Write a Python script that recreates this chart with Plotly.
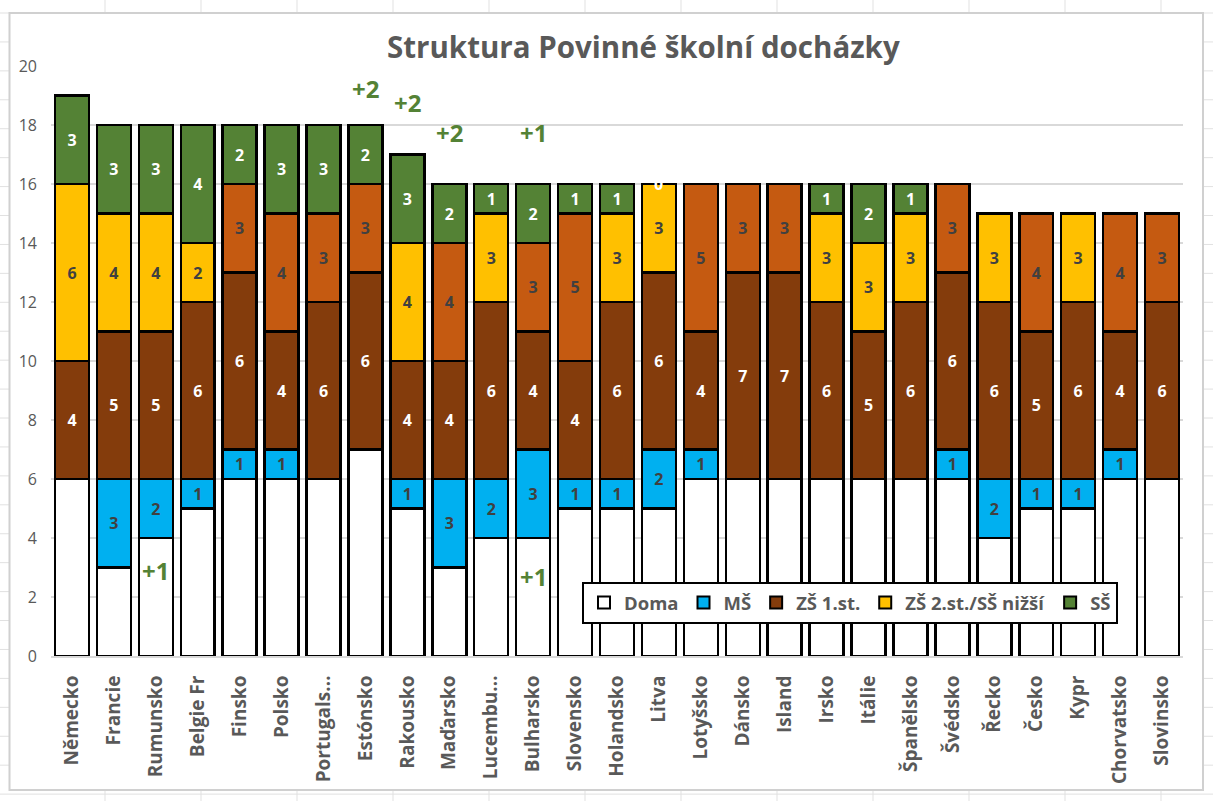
import plotly.graph_objects as go

# ---------------- data ----------------
countries = ["Německo", "Francie", "Rumunsko", "Belgie Fr", "Finsko", "Polsko", "Portugals…",
             "Estónsko", "Rakousko", "Maďarsko", "Lucembu…", "Bulharsko", "Slovensko",
             "Holandsko", "Litva", "Lotyšsko", "Dánsko", "Island", "Irsko", "Itálie",
             "Španělsko", "Švédsko", "Řecko", "Česko", "Kypr", "Chorvatsko", "Slovinsko"]

doma = [6, 3, 4, 5, 6, 6, 6, 7, 5, 3, 4, 4, 5, 5, 5, 6, 6, 6, 6, 6, 6, 6, 4, 5, 5, 6, 6]
ms = [0, 3, 2, 1, 1, 1, 0, 0, 1, 3, 2, 3, 1, 1, 2, 1, 0, 0, 0, 0, 0, 1, 2, 1, 1, 1, 0]
zs1 = [4, 5, 5, 6, 6, 4, 6, 6, 4, 4, 6, 4, 4, 6, 6, 4, 7, 7, 6, 5, 6, 6, 6, 5, 6, 4, 6]
zs2_ss_nizsi = [6, 4, 4, 2, 0, 0, 0, 0, 4, 0, 3, 0, 0, 3, 3, 0, 0, 0, 3, 3, 3, 0, 3, 0, 3, 0, 0]
zs2 = [0, 0, 0, 0, 3, 4, 3, 3, 0, 4, 0, 3, 5, 0, 0, 5, 3, 3, 0, 0, 0, 3, 0, 4, 0, 4, 3]
ss = [3, 3, 3, 4, 2, 3, 3, 2, 3, 2, 1, 2, 1, 1, 0, 0, 0, 0, 1, 2, 1, 0, 0, 0, 0, 0, 0]

# extra notes (country, y-position, text)
notes = [("Estónsko", 19.25, "+2"), ("Rakousko", 18.75, "+2"), ("Maďarsko", 17.75, "+2"),
         ("Bulharsko", 17.75, "+1"), ("Rumunsko", 2.9, "+1"), ("Bulharsko", 2.7, "+1")]

title = "Struktura Povinné školní docházky"
y_ticks = list(range(0, 21, 2))

# ---------------- styling ----------------
FONT = "Open Sans"
GRAY = "#595959"
DARK = "#404040"

fig = go.Figure()


def add(name, vals, color, tcolor, showlegend=True, show_labels=True):
    fig.add_trace(go.Bar(
        name=name, x=countries,
        y=[v if v else None for v in vals],
        marker=dict(color=color, line=dict(color="black", width=2.5)),
        text=[str(v) if (v and show_labels) else "" for v in vals],
        textposition="inside", insidetextanchor="middle", textangle=0,
        insidetextfont=dict(family=FONT, size=16, color=tcolor, weight="bold"),
        showlegend=showlegend, hoverinfo="x+y+name",
    ))


add("Doma", doma, "#FFFFFF", DARK, show_labels=False)
add("MŠ", ms, "#00B0F0", DARK)
add("ZŠ 1.st.", zs1, "#843C0C", "#FFFFFF")
add("ZŠ 2.st./SŠ nižší", zs2_ss_nizsi, "#FFC000", DARK)
add("ZŠ 2.st.", zs2, "#C55A11", DARK, showlegend=False)
add("SŠ", ss, "#548235", "#FFFFFF")

W, H = 1213, 801
L, R, T, B = 51, 30, 66, 145
pw, ph = W - L - R, H - T - B


def px(x):
    return (x - L) / pw


def py(y):
    return (H - B - y) / ph


shapes = []
# spreadsheet grid behind the chart
xv = 105
while xv < W:
    shapes.append(dict(type="line", xref="paper", yref="paper", x0=px(xv), x1=px(xv),
                       y0=py(0), y1=py(H), line=dict(color="#E1E1E1", width=1), layer="below"))
    xv += 96
yv = 13.0
while yv < H:
    shapes.append(dict(type="line", xref="paper", yref="paper", x0=px(0), x1=px(W),
                       y0=py(yv), y1=py(yv), line=dict(color="#E1E1E1", width=1), layer="below"))
    yv += 28.93
# chart area
shapes.append(dict(type="rect", xref="paper", yref="paper", x0=px(9.5), x1=px(1203),
                   y0=py(790), y1=py(13), fillcolor="white",
                   line=dict(color="#D0D0D0", width=2), layer="below"))

annotations = []
for c, yy, t in notes:
    annotations.append(dict(x=c, y=yy, xref="x", yref="y", text=t, showarrow=False,
                            font=dict(family=FONT, size=24, color="#548235", weight="bold")))
# zero-height SŠ label of Litva (white, mostly hidden)
annotations.append(dict(x="Litva", y=16, xref="x", yref="y", text="0", showarrow=False,
                        font=dict(family=FONT, size=16, color="#FFFFFF", weight="bold")))
annotations.append(dict(x=px(644), y=py(46), xref="paper", yref="paper", text=title,
                        showarrow=False, xanchor="center", yanchor="middle",
                        font=dict(family=FONT, size=29.5, color=GRAY, weight="bold")))

fig.update_layout(
    width=W, height=H,
    margin=dict(l=L, r=R, t=T, b=B),
    paper_bgcolor="white", plot_bgcolor="rgba(0,0,0,0)",
    barmode="stack", bargap=0.19,
    font=dict(family=FONT, color=GRAY),
    shapes=shapes, annotations=annotations,
    showlegend=True,
    legend=dict(orientation="h", x=px(582), y=py(582), xanchor="left", yanchor="top",
                bgcolor="white", bordercolor="black", borderwidth=2,
                traceorder="normal", itemwidth=30,
                font=dict(family=FONT, size=18.5, color=GRAY, weight="bold"),
                itemsizing="constant"),
    xaxis=dict(tickangle=-90, tickfont=dict(family=FONT, size=19, color=GRAY, weight="bold"),
               showgrid=False, showline=True, linecolor="#D9D9D9", linewidth=2,
               ticks="", automargin=False, ticklabelstandoff=10),
    yaxis=dict(range=[0, 20], tickvals=y_ticks, showgrid=True, gridcolor="#D9D9D9",
               gridwidth=2, zeroline=False, showline=False, ticks="",
               tickfont=dict(family=FONT, size=16, color=GRAY), automargin=False,
               ticklabelstandoff=13),
)

fig.write_html("out.html")
